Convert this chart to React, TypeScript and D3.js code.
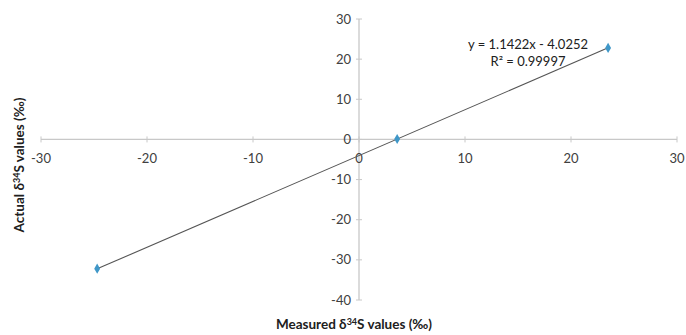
import React from "react";
import * as d3 from "d3";

const measured = [-24.7, 3.6, 23.5];
const actual = [-32.2, 0.1, 22.8];
const xTicks = [-30, -20, -10, 0, 10, 20, 30];
const yTicks = [-40, -30, -20, -10, 0, 10, 20, 30];
const slope = 1.1422;
const intercept = -4.0252;
const eqLabel = "y = 1.1422x - 4.0252";
const r2Label = "R² = 0.99997";

export default function App() {
  const W = 686, H = 335;
  const x = d3.scaleLinear().domain([-30, 30]).range([41, 677]);
  const y = d3.scaleLinear().domain([-40, 30]).range([300, 19]);
  const font = "Lato, 'Open Sans', sans-serif";
  const xmin = d3.min(measured)!, xmax = d3.max(measured)!;
  const line = d3.line<number>().x((d) => x(d)).y((d) => y(slope * d + intercept));
  const diamond = d3.symbol().type(d3.symbolDiamond).size(30)()!;
  const axisColor = "#c8c8c8";
  const textColor = "#404040";
  return (
    <svg width={W} height={H} style={{ position: "absolute", left: 0, top: 0, background: "#fff" }}>
      <line x1={x(-30)} x2={x(30)} y1={y(0)} y2={y(0)} stroke={axisColor} strokeWidth={1.3} />
      <line x1={x(0)} x2={x(0)} y1={y(30)} y2={y(-40)} stroke={axisColor} strokeWidth={1.3} />
      {xTicks.map((t) => (
        <line key={"xt" + t} x1={x(t)} x2={x(t)} y1={y(0) - 3} y2={y(0) + 3} stroke={axisColor} strokeWidth={1} />
      ))}
      {yTicks.map((t) => (
        <line key={"yt" + t} x1={x(0) - 3} x2={x(0) + 3} y1={y(t)} y2={y(t)} stroke={axisColor} strokeWidth={1} />
      ))}
      {xTicks.map((t) => (
        <text key={"xl" + t} x={x(t)} y={y(0) + 24} textAnchor="middle" fontFamily={font} fontSize={13} fill={textColor}>
          {t}
        </text>
      ))}
      {yTicks.map((t) => (
        <text key={"yl" + t} x={x(0) - 8} y={y(t) + 4.5} textAnchor="end" fontFamily={font} fontSize={13} fill={textColor}>
          {t}
        </text>
      ))}
      <path d={line([xmin, xmax]) || ""} stroke="#555" strokeWidth={1.1} fill="none" />
      {measured.map((m, i) => (
        <path key={"p" + i} d={diamond} transform={`translate(${x(m)},${y(actual[i])})`} fill="#3f97c8" />
      ))}
      <text x={528} y={49} textAnchor="middle" fontFamily={font} fontSize={13} fill="#202020">{eqLabel}</text>
      <text x={528} y={66} textAnchor="middle" fontFamily={font} fontSize={13} fill="#202020">{r2Label}</text>
      <text x={354} y={329} textAnchor="middle" fontFamily={font} fontSize={13.5} fontWeight="bold" fill="#202020">
        Measured δ<tspan dy={-4.5} fontSize={9}>34</tspan><tspan dy={4.5}>S values (‰)</tspan>
      </text>
      <text transform={`translate(24,165) rotate(-90)`} textAnchor="middle" fontFamily={font} fontSize={13.5} fontWeight="bold" fill="#202020">
        Actual δ<tspan dy={-4.5} fontSize={9}>34</tspan><tspan dy={4.5}>S values (‰)</tspan>
      </text>
    </svg>
  );
}
